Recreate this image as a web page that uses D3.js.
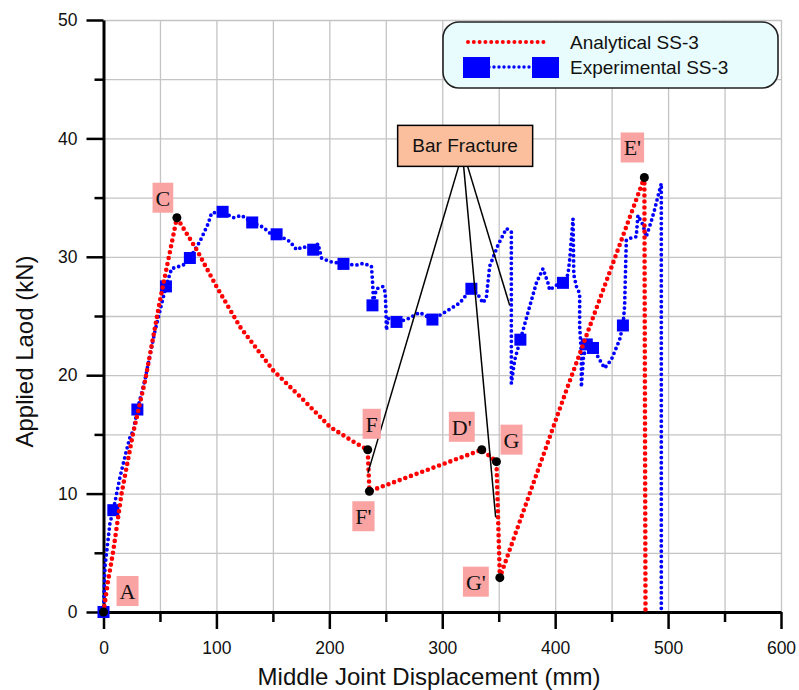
<!DOCTYPE html>
<html>
<head>
<meta charset="utf-8">
<script src="https://cdn.jsdelivr.net/npm/d3@7"></script>
<style>
  body { margin: 0; background: #fff; }
  svg { display: block; }
</style>
</head>
<body>
<div class="content"></div>
<script>
// chart data (x = displacement in mm, y = load in kN)
var analyticalPts = [
  [0,0],[4,2.6],[8.4,5],[16,10],[26,15],[37,19.6],[50,26.3],[65,33.3],
  [82.5,30.6],[100,27.5],[120.8,24.1],[150.3,20.4],[174,18.2],[200.4,15.65],
  [221,14.4],[234,13.7],[235.5,10.2],[335,13.7],[348,12.7],[351,2.9],
  [410,18.75],[479,36.7],[480,0]
];

var experimentalPts = [
  [0,0],[1.3,3.8],[5.7,7.5],[8.7,8.6],[14.6,11.4],[20.5,13.7],[23.5,14.8],[26.4,15.3],
  [30,17.1],[36.7,19.6],[45,23.5],[55.3,27.5],[60.3,29.0],[70.6,29.3],[76.5,29.9],
  [85.4,31.3],[92.7,32.8],[95.7,33.7],[105.5,33.8],[114.9,33.3],[122.3,33.5],[126.7,33.2],
  [131.7,32.9],[141.4,32.5],[147.3,32.0],[153.3,31.9],[165,31.3],[171,30.6],[176.8,30.85],
  [185.7,30.6],[190,31.1],[193.1,29.9],[200.4,29.6],[212.5,29.4],[224,29.3],[230,29.45],
  [237.3,29.2],[238.2,28.0],[238.8,26.9],[238.2,25.9],[241.8,27.3],[247.6,27.5],[249.5,27.0],
  [250,25.8],[250.6,23.8],[252,24.8],[259.5,24.5],[268.3,24.7],[280,25.3],[291.3,24.7],
  [303.7,25.4],[315.5,26.1],[325.8,27.3],[331.7,26.8],[336.1,26.1],[339.1,26.6],[342,29.2],
  [349.4,31.0],[356.8,32.4],[361.2,32.1],[361.2,27.5],[361.2,19.3],[364.2,21.3],[369.2,23.0],
  [377.4,25.8],[383.4,27.8],[389.2,29.0],[393.6,27.8],[395.1,27.2],[401,27.6],[406.9,27.8],
  [411.3,28.5],[412.8,29.7],[415.8,33.2],[416.5,28.5],[418.8,27.5],[421.7,26.9],[421.7,24.1],
  [423.2,21.85],[423.2,19.0],[425,21.5],[428,22.6],[433.5,22.3],[439.4,21.3],[443.8,20.6],
  [449.7,21.3],[457.1,23.0],[460,24.2],[461.5,25.8],[463,31.4],[467.4,31.6],[471.8,31.7],
  [473.3,33.5],[477.7,32.7],[480.7,31.7],[485.1,33.0],[488.1,34.0],[491,35.1],[494,36.2],[494,0]
];

var experimentalMarkers = [
  [0,0],[8.7,8.6],[30,17.1],[55.3,27.5],[76.5,29.9],[105.5,33.8],[131.7,32.9],[153.3,31.9],
  [185.7,30.6],[212.5,29.4],[238.2,25.9],[259.5,24.5],[291.3,24.7],[325.8,27.3],[369.2,23.0],
  [406.9,27.8],[428,22.6],[433.5,22.3],[460,24.2]
];

// key points on the analytical curve
var keyNames = ["A", "C", "F", "F'", "D'", "G", "G'", "E'"];
var keyX = [0, 65, 234, 235.5, 335, 348, 351, 479];
var keyY = [0, 33.3, 13.7, 10.2, 13.7, 12.7, 2.9, 36.7];

// bar fracture arrow targets
var fractureX = [234.2, 347.3, 359.7];
var fractureY = [11.75, 8.0, 25.9];

var xMajorTicks = [0, 100, 200, 300, 400, 500, 600];
var yMajorTicks = [0, 10, 20, 30, 40, 50];

var seriesNames = ["Analytical SS-3", "Experimental SS-3"];

// set the dimensions and margins of the graph
var margin = {top: 20, right: 18, bottom: 78, left: 103.5},
    width = 799 - margin.left - margin.right,
    height = 690 - margin.top - margin.bottom;

var svg = d3.select(".content")
    .append("svg")
    .attr("width", 799)
    .attr("height", 690)
    .append("g")
    .attr("transform", "translate(" + margin.left + "," + margin.top + ")");

var x = d3.scaleLinear().domain([0, 600]).range([0, width]);
var y = d3.scaleLinear().domain([0, 50]).range([height, 0]);

var sans = "'Liberation Sans', Arial, sans-serif";
var serif = "'Liberation Serif', 'Times New Roman', serif";

// grid
svg.append("g")
    .attr("transform", "translate(0," + height + ")")
    .call(d3.axisBottom(x).tickValues(d3.range(50, 601, 50)).tickSize(-height).tickFormat(""))
    .call(function(g) { g.select(".domain").remove(); })
    .selectAll("line").attr("stroke", "#c4c4c4").attr("stroke-width", 1.3);
svg.append("g")
    .call(d3.axisLeft(y).tickValues(d3.range(5, 51, 5)).tickSize(-width).tickFormat(""))
    .call(function(g) { g.select(".domain").remove(); })
    .selectAll("line").attr("stroke", "#c4c4c4").attr("stroke-width", 1.3);

// minor ticks
svg.append("g")
    .attr("transform", "translate(0," + height + ")")
    .call(d3.axisBottom(x).tickValues(d3.range(50, 601, 100)).tickSize(10).tickFormat(""))
    .call(function(g) { g.select(".domain").remove(); })
    .selectAll("line").attr("stroke-width", 2.5);
svg.append("g")
    .call(d3.axisLeft(y).tickValues(d3.range(5, 51, 10)).tickSize(9).tickFormat(""))
    .call(function(g) { g.select(".domain").remove(); })
    .selectAll("line").attr("stroke-width", 2.5);

// major axes
var xAxis = svg.append("g")
    .attr("transform", "translate(0," + height + ")")
    .call(d3.axisBottom(x).tickValues(xMajorTicks).tickSize(17).tickSizeOuter(0).tickPadding(13));
var yAxis = svg.append("g")
    .call(d3.axisLeft(y).tickValues(yMajorTicks).tickSize(17).tickSizeOuter(0).tickPadding(9));
[xAxis, yAxis].forEach(function(a) {
    a.select(".domain").attr("stroke-width", 3);
    a.selectAll("line").attr("stroke-width", 2.5);
    a.selectAll("text").attr("font-family", sans).attr("font-size", 17.5).attr("fill", "#111");
});

// axis titles
svg.append("text")
    .attr("x", 325.5)
    .attr("y", height + 73)
    .attr("text-anchor", "middle")
    .attr("font-family", sans)
    .attr("font-size", 24)
    .attr("fill", "#111")
    .text("Middle Joint Displacement (mm)");
svg.append("text")
    .attr("transform", "translate(" + (-71) + "," + (y(22)) + ") rotate(-90)")
    .attr("text-anchor", "middle")
    .attr("font-family", sans)
    .attr("font-size", 24)
    .attr("fill", "#111")
    .text("Applied Laod (kN)");

var line = d3.line()
    .x(function(d) { return x(d[0]); })
    .y(function(d) { return y(d[1]); });

// experimental curve
svg.append("path")
    .datum(experimentalPts)
    .attr("fill", "none")
    .attr("stroke", "#0000ff")
    .attr("stroke-width", 3.8)
    .attr("stroke-linecap", "round")
    .attr("stroke-dasharray", "0 5.2")
    .attr("d", line);

svg.selectAll(".marker")
    .data(experimentalMarkers)
    .enter()
    .append("rect")
    .attr("x", function(d) { return x(d[0]) - 6; })
    .attr("y", function(d) { return y(d[1]) - 6; })
    .attr("width", 12)
    .attr("height", 12)
    .attr("fill", "#0000ff");

// analytical curve
svg.append("path")
    .datum(analyticalPts)
    .attr("fill", "none")
    .attr("stroke", "#ff0000")
    .attr("stroke-width", 4.6)
    .attr("stroke-linecap", "round")
    .attr("stroke-dasharray", "0 6")
    .attr("d", line);

// bar fracture callout
var boxL = x(260.5), boxT = y(41.1), boxW = 135, boxH = 41;
var startX = [boxL + 61, boxL + 66, boxL + 70];
fractureX.forEach(function(fx, i) {
    svg.append("line")
        .attr("x1", startX[i]).attr("y1", boxT + boxH)
        .attr("x2", x(fx)).attr("y2", y(fractureY[i]))
        .attr("stroke", "#000")
        .attr("stroke-width", 1.5);
});
svg.append("rect")
    .attr("x", boxL).attr("y", boxT)
    .attr("width", boxW).attr("height", boxH)
    .attr("fill", "#fbbf9d")
    .attr("stroke", "#000")
    .attr("stroke-width", 1.5);
svg.append("text")
    .attr("x", boxL + boxW / 2)
    .attr("y", boxT + 27)
    .attr("text-anchor", "middle")
    .attr("font-family", sans)
    .attr("font-size", 19)
    .attr("fill", "#111")
    .text("Bar Fracture");

// key points + labels
var labelOffset = [[24,-21],[-14,-20],[4,-26],[-6,25],[-20,-23],[15,-22],[-24,4],[-12,-30]];
keyNames.forEach(function(name, i) {
    var px = x(keyX[i]), py = y(keyY[i]);
    svg.append("circle")
        .attr("cx", px).attr("cy", py)
        .attr("r", 4.5)
        .attr("fill", "#000");
    var cx = px + labelOffset[i][0], cy = py + labelOffset[i][1];
    var lbl = svg.append("g");
    var bg = lbl.append("rect").attr("fill", "#f9a3a3");
    var t = lbl.append("text")
        .attr("x", cx).attr("y", cy + 8)
        .attr("text-anchor", "middle")
        .attr("font-family", serif)
        .attr("font-size", 22)
        .attr("fill", "#111")
        .text(name);
    var bb = t.node().getBBox();
    bg.attr("x", bb.x - 3).attr("y", cy - 15)
        .attr("width", bb.width + 6).attr("height", 30);
});

// legend
var legend = svg.append("g").attr("transform", "translate(" + (443 - margin.left) + "," + (22 - margin.top) + ")");
legend.append("rect")
    .attr("width", 335).attr("height", 66)
    .attr("rx", 16).attr("ry", 16)
    .attr("fill", "#e8fcfd")
    .attr("stroke", "#222")
    .attr("stroke-width", 1.6);
legend.append("line")
    .attr("x1", 25).attr("x2", 105).attr("y1", 20).attr("y2", 20)
    .attr("stroke", "#ff0000").attr("stroke-width", 4)
    .attr("stroke-linecap", "round").attr("stroke-dasharray", "0 5.8");
legend.append("line")
    .attr("x1", 46).attr("x2", 90).attr("y1", 45).attr("y2", 45)
    .attr("stroke", "#0000ff").attr("stroke-width", 3.4)
    .attr("stroke-linecap", "round").attr("stroke-dasharray", "0 5");
[33.5, 102.5].forEach(function(cx) {
    legend.append("rect")
        .attr("x", cx - 13.5).attr("y", 35)
        .attr("width", 27).attr("height", 21)
        .attr("fill", "#0000ff");
});
seriesNames.forEach(function(s, i) {
    legend.append("text")
        .attr("x", 127).attr("y", 27 + i * 25)
        .attr("font-family", sans)
        .attr("font-size", 19)
        .attr("fill", "#111")
        .text(s);
});
</script>
</body>
</html>
